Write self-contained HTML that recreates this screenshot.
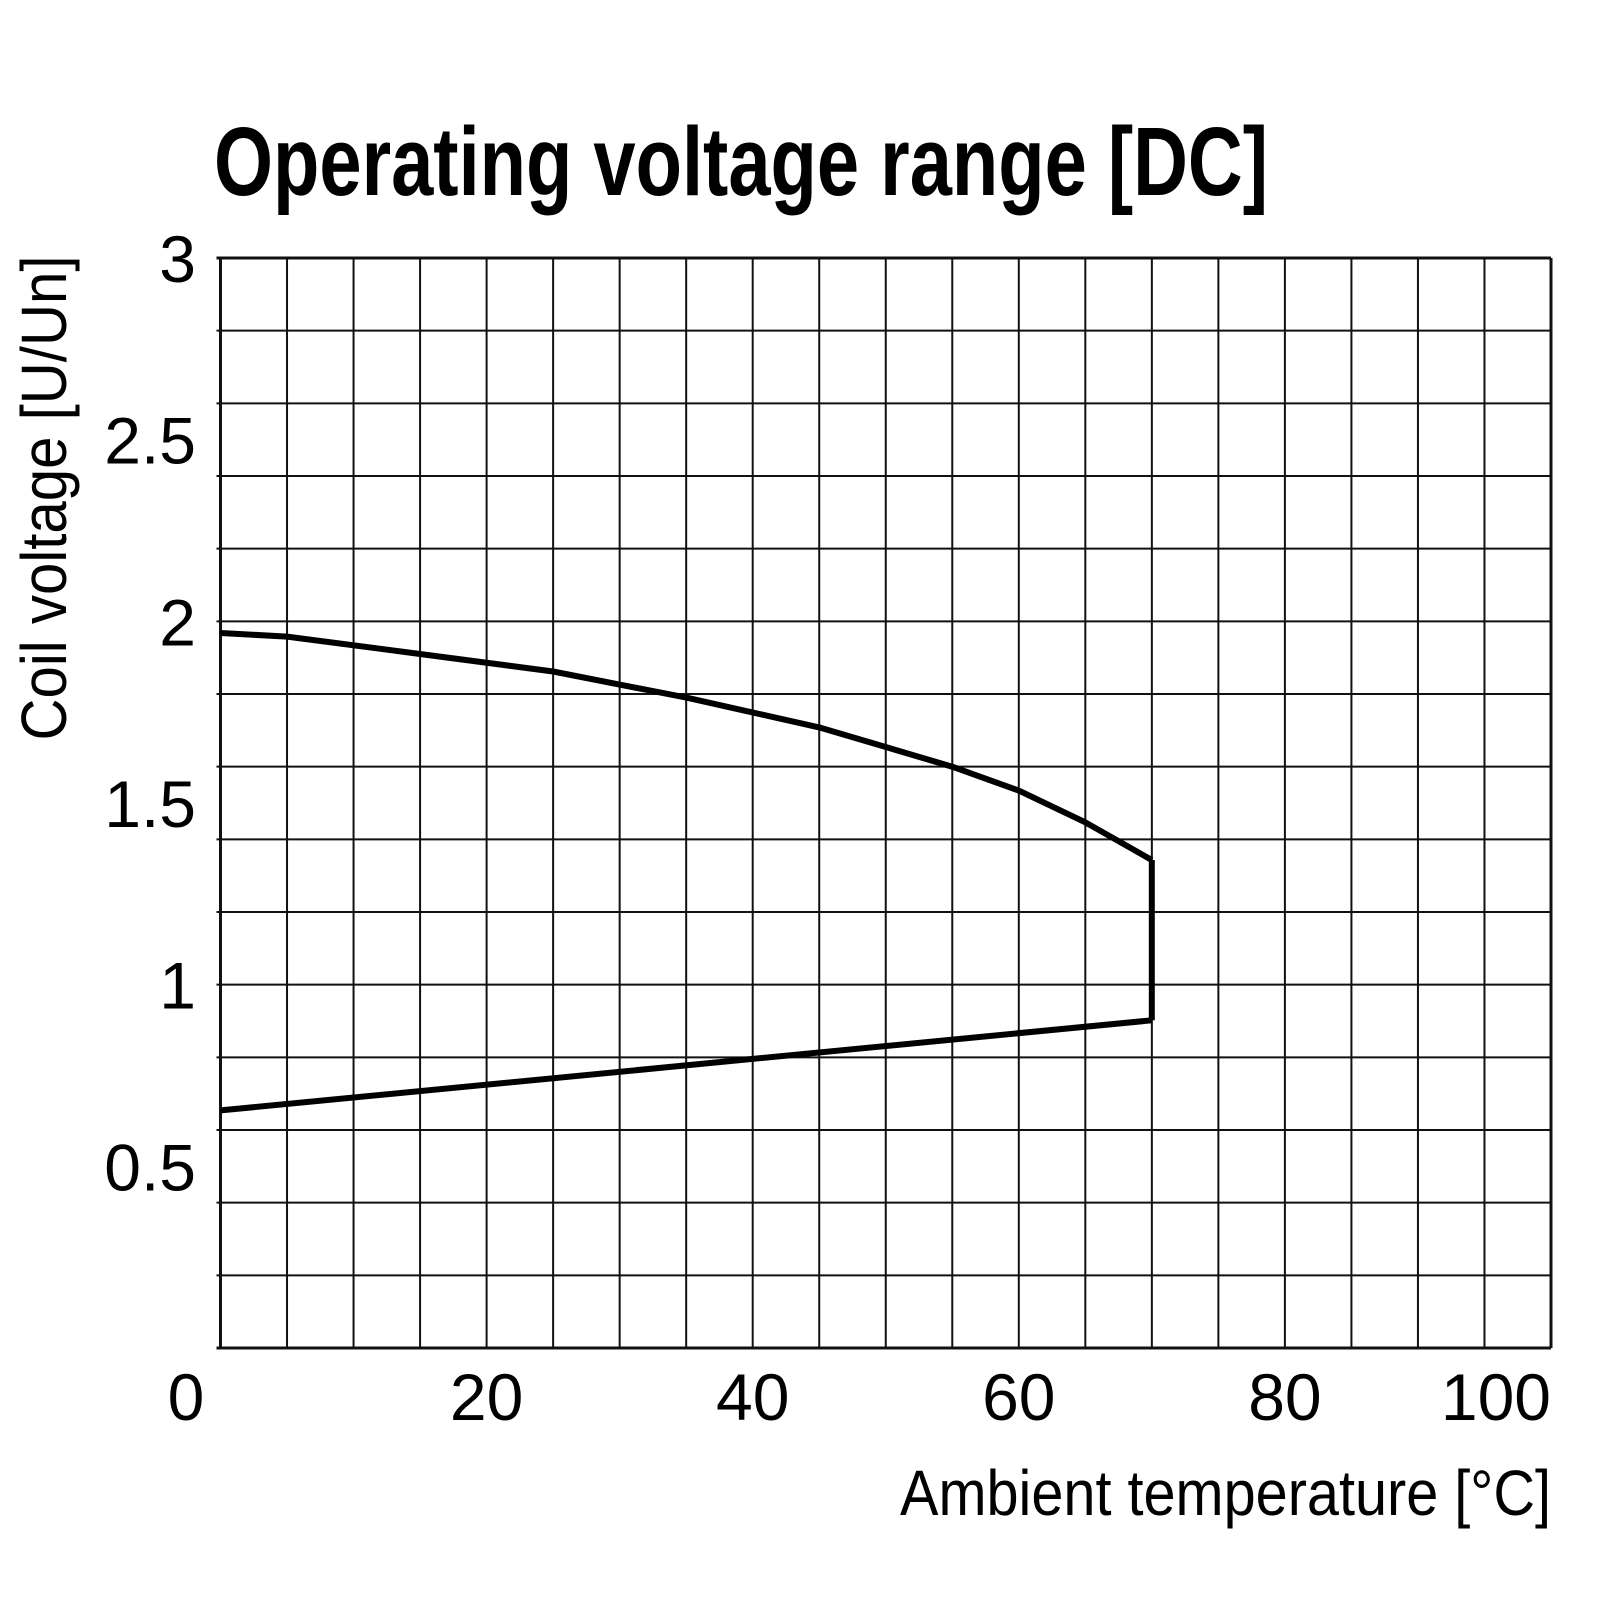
<!DOCTYPE html>
<html><head><meta charset="utf-8"><style>
html,body{margin:0;padding:0;background:#fff;}
svg{display:block;font-family:"Liberation Sans Narrow","Liberation Sans",sans-serif;}
</style></head><body>
<svg id="chart" width="1600" height="1600" viewBox="0 0 1600 1600" xmlns="http://www.w3.org/2000/svg">
<text x="214" y="195" font-size="97" font-weight="bold" textLength="1054" lengthAdjust="spacingAndGlyphs">Operating voltage range [DC]</text>
<g id="grid"></g>
<g id="ticks"></g>
<g id="series"></g>
<text transform="translate(66,498) rotate(-90)" text-anchor="middle" font-size="64" textLength="485" lengthAdjust="spacingAndGlyphs">Coil voltage [U/Un]</text>
<text x="1551" y="1515" text-anchor="end" font-size="64" textLength="651" lengthAdjust="spacingAndGlyphs">Ambient temperature [°C]</text>
</svg>
<script>
const xTicks=[0,20,40,60,80,100];
const yTicks=[0.5,1,1.5,2,2.5,3];
const upperT=[0,5,15,25,35,45,55,60,65,70];
const upperV=[1.968,1.958,1.91,1.862,1.79,1.708,1.6,1.534,1.447,1.343];
const lowerT=[0,70];
const lowerV=[0.654,0.902];
const edgeT=[70,70];
const edgeV=[0.902,1.343];
const L=220.5,R=1551,T=258,B=1348;
const xs=t=>L+(t/100)*(R-L);
const ys=v=>B-(v/3)*(B-T);
const NS="http://www.w3.org/2000/svg";
function mk(tag,attrs,parent){const e=document.createElementNS(NS,tag);for(const k in attrs)e.setAttribute(k,attrs[k]);parent.appendChild(e);return e;}
const grid=document.getElementById('grid');
for(let i=0;i<=20;i++){const x=xs(i*5);
const ln=mk('line',{x1:x,x2:x,y1:T,y2:B,stroke:'#111','stroke-width':(i==0||i==20)?3:2},grid);

}
for(let j=0;j<=15;j++){const y=ys(j*0.2);
const ln=mk('line',{x1:L-4,x2:R,y1:y,y2:y,stroke:'#111','stroke-width':(j==0||j==15)?3:2},grid);

}
const tk=document.getElementById('ticks');
xTicks.forEach(t=>{const e=mk('text',{x:t==0?186:(t==100?1551:xs(t)),y:1420,'font-size':66,'text-anchor':t==0?'middle':(t==100?'end':'middle')},tk);e.textContent=t;

});
yTicks.forEach(v=>{const e=mk('text',{x:196,y:ys(v)+24,'font-size':66,'text-anchor':'end'},tk);e.textContent=v;

});
const sg=document.getElementById('series');
function line(Ts,Vs,name){let d='';Ts.forEach((t,i)=>{d+=(i?'L':'M')+xs(t).toFixed(1)+','+ys(Vs[i]).toFixed(1);});
const p=mk('path',{d:d,fill:'none',stroke:'#000','stroke-width':6,'stroke-linejoin':'round'},sg);

}
line(upperT,upperV,'upper-limit-curve');
line(lowerT,lowerV,'lower-limit-curve');
line(edgeT,edgeV,'max-temperature-edge');
</script>
</body></html>
